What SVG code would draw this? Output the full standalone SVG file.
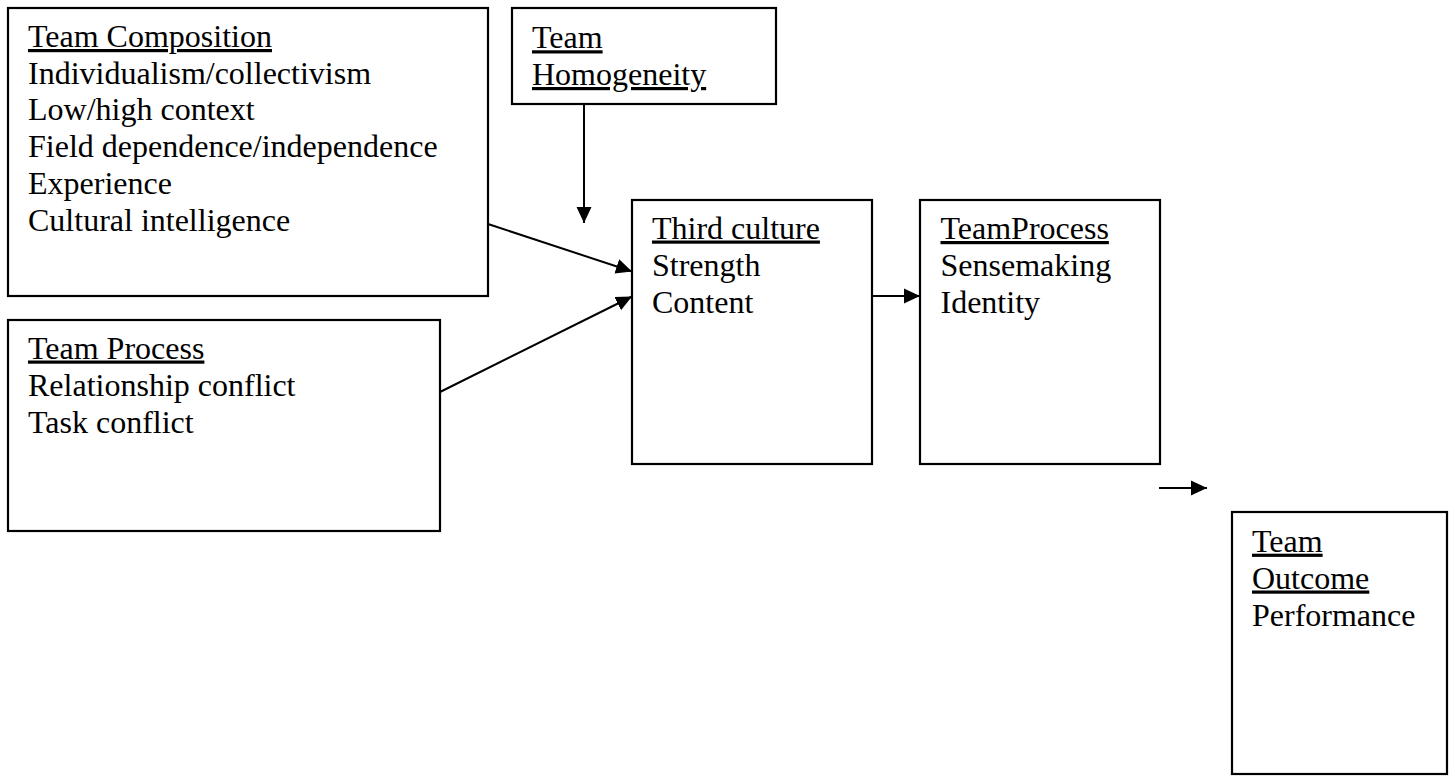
<svg xmlns="http://www.w3.org/2000/svg" width="1455" height="776" viewBox="0 0 1455 776">
<style>
.box{fill:#fff;stroke:#000;stroke-width:2.2}
.t{font-family:"Liberation Serif","Times New Roman",serif;font-size:32px;fill:#000}
.u{text-decoration:underline}
.c{stroke:#000;stroke-width:2;fill:none;marker-end:url(#ah)}
</style>
<defs>
<marker id="ah" markerUnits="userSpaceOnUse" markerWidth="17" markerHeight="16" refX="16" refY="8" orient="auto">
<path d="M0,0.5 L16,8 L0,15.5 z" fill="#000"/>
</marker>
</defs>
<rect width="1455" height="776" fill="#fff"/>
<g id="connectors">
<line class="c" x1="584" y1="104" x2="584" y2="223"/>
<line class="c" x1="488" y1="224" x2="632" y2="271.5"/>
<line class="c" x1="440" y1="392" x2="632" y2="296.5"/>
<line class="c" x1="872" y1="296" x2="920" y2="296"/>
<line class="c" x1="1159" y1="488" x2="1207" y2="488"/>
</g>
<g id="team-composition">
<rect class="box" x="8" y="8" width="480" height="288"/>
<text class="t" x="28" y="47"><tspan class="u">Team Composition</tspan><tspan x="28" y="83.5">Individualism/collectivism</tspan><tspan x="28" y="120.3">Low/high context</tspan><tspan x="28" y="157">Field dependence/independence</tspan><tspan x="28" y="193.8">Experience</tspan><tspan x="28" y="230.6">Cultural intelligence</tspan></text>
</g>
<g id="team-homogeneity">
<rect class="box" x="512" y="8" width="264" height="96"/>
<text class="t" x="532" y="48.3"><tspan class="u">Team</tspan><tspan class="u" x="532" y="85">Homogeneity</tspan></text>
</g>
<g id="third-culture">
<rect class="box" x="632" y="200" width="240" height="264"/>
<text class="t" x="652" y="238.5"><tspan class="u">Third culture</tspan><tspan x="652" y="276">Strength</tspan><tspan x="652" y="313">Content</tspan></text>
</g>
<g id="team-process-right">
<rect class="box" x="920" y="200" width="240" height="264"/>
<text class="t" x="940.5" y="239"><tspan class="u">TeamProcess</tspan><tspan x="940.5" y="276">Sensemaking</tspan><tspan x="940.5" y="312.7">Identity</tspan></text>
</g>
<g id="team-process-left">
<rect class="box" x="8" y="320" width="432" height="211"/>
<text class="t" x="28" y="358.5"><tspan class="u">Team Process</tspan><tspan x="28" y="395.5">Relationship conflict</tspan><tspan x="28" y="432.5">Task conflict</tspan></text>
</g>
<g id="team-outcome">
<rect class="box" x="1232" y="512" width="215" height="262"/>
<text class="t" x="1252" y="551.7"><tspan class="u">Team</tspan><tspan class="u" x="1252" y="588.5">Outcome</tspan><tspan x="1252" y="626">Performance</tspan></text>
</g>
</svg>
